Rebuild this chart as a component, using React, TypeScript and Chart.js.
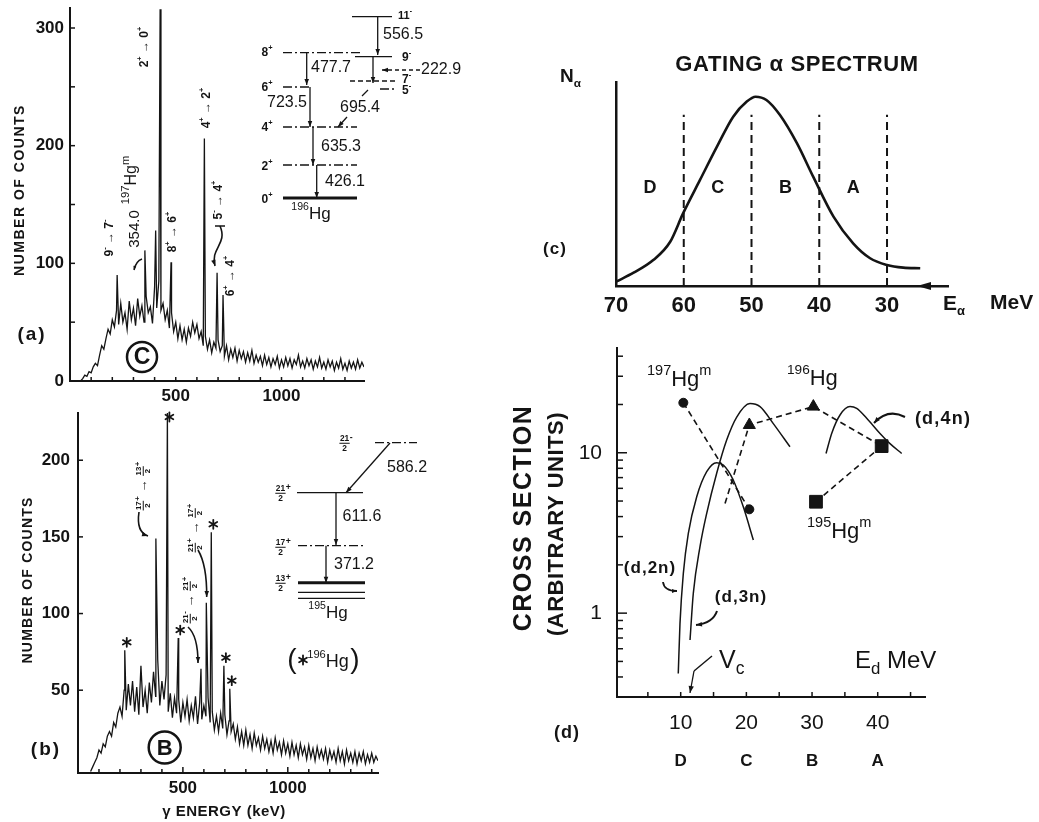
import React, { useEffect, useRef } from 'react';
import { Chart, registerables } from 'chart.js';

Chart.register(...registerables);

const W = 1039;
const H = 822;
const INK = '#141414';
const FAM = '"Liberation Sans", "DejaVu Sans", Arial, sans-serif';

// ---------------- Panel (a): gamma spectrum, alpha gate C ----------------
const binWidthA = 10; // keV per channel group
const countsA = [
  null, null, null, null, null, 0, 2, 5, 4, 8,
  7, 12, 15, 13, 22, 30, 27, 36, 44, 40,
  52, 46, 60, 48, 66, 50, 58, 44, 68, 52,
  62, 47, 70, 55, 64, 50, 72, 58, 63, 49,
  80, 62, 85, 60, 66, 52, 60, 45, 58, 42,
  50, 36, 47, 35, 44, 33, 45, 38, 50, 41,
  48, 36, 42, 30, 38, 27, 35, 24, 33, 28,
  35, 25, 30, 21, 30, 18, 27, 20, 28, 17,
  26, 19, 25, 16, 24, 17, 26, 15, 22, 16,
  21, 13, 22, 14, 20, 12, 19, 14, 21, 11,
  18, 12, 20, 13, 19, 11, 18, 14, 22, 12,
  17, 11, 19, 13, 18, 10, 17, 12, 20, 11,
  16, 10, 18, 12, 17, 9, 16, 11, 19, 10,
  15, 9, 17, 11, 16, 10, 18, 11, 16, 12,
];
const peakEnergiesA = [222.9, 354.0, 405, 426.1, 477.7, 635.3, 695.4, 723.5];
const peakHeightsA = [90, 111, 128, 316, 101, 206, 92, 73];
const yTickLabelsA = [0, 100, 200, 300];
const yTickMarksA = [50, 100, 150, 200, 250, 300];
const xTickLabelsA = [500, 1000];
const xTickMarksA = [100, 200, 300, 400, 500, 600, 700, 800, 900, 1000, 1100, 1200, 1300];

// ---------------- Panel (b): gamma spectrum, alpha gate B ----------------
const binWidthB = 10;
const countsB = [
  null, null, null, null, null, null, -3, 0, 3, 6,
  11, 9, 15, 13, 20, 23, 20, 29, 26, 35,
  39, 33, 50, 37, 54, 40, 56, 36, 52, 34,
  66, 39, 50, 35, 55, 42, 62, 46, 70, 40,
  56, 44, 60, 36, 48, 32, 45, 35, 44, 29,
  42, 33, 44, 30, 40, 32, 46, 28, 42, 31,
  40, 33, 45, 29, 36, 24, 33, 23, 35, 25,
  34, 21, 30, 23, 28, 18, 26, 15, 23, 14,
  24, 14, 21, 12, 22, 14, 19, 11, 20, 12,
  18, 10, 17, 9, 19, 11, 16, 8, 17, 9,
  15, 7, 16, 8, 14, 6, 15, 8, 13, 5,
  14, 6, 12, 4, 13, 6, 11, 5, 12, 3,
  11, 5, 10, 3, 12, 4, 10, 2, 11, 4,
  9, 3, 10, 2, 9, 4, 10, 2, 8, 3,
  9, 3, 7, 4,
];
const peakEnergiesB = [222.9, 371.2, 426.1, 477.7, 586.2, 611.6, 635.3, 695.4, 723.5];
const peakHeightsB = [76, 149, 231, 84, 64, 107, 153, 66, 51];
const starredPeaksB = [222.9, 426.1, 477.7, 635.3, 695.4, 723.5];
const yTickLabelsB = [50, 100, 150, 200];
const yTickMarksB = [50, 100, 150, 200];
const xTickLabelsB = [500, 1000];
const xTickMarksB = [100, 200, 300, 400, 500, 600, 700, 800, 900, 1000, 1100, 1200, 1300, 1400];

// ---------------- Panel (c): gating alpha spectrum ----------------
const alphaEnergy = [25.1, 27.6, 30, 32.5, 35, 37.9, 40.9, 43.3, 45.8, 47.8, 49.4, 50.7, 52.7, 55.1, 57.6, 60.1, 62, 64.5, 67.4, 70];
const alphaCounts = [8.7, 9.0, 10.3, 13.6, 20.9, 34, 53.6, 70, 83.8, 91.2, 92.8, 90.4, 83, 68.3, 52, 35.6, 21.7, 12.7, 6.5, 2.1];
const gateBounds = [70, 60, 50, 40, 30];
const gateLetters = ['D', 'C', 'B', 'A'];
const gateLineTop = 84;
const gateLetterLevel = 48;
const xTickLabelsC = [30, 40, 50, 60, 70];

// ---------------- Panel (d): excitation functions ----------------
const d2nE = [9.63, 9.89, 10.4, 11.16, 12.44, 13.96, 15.48, 16.49, 18.0, 19.53, 21.06];
const d2nS = [0.42, 0.86, 1.77, 3.14, 5.32, 7.62, 8.67, 8.38, 6.76, 4.6, 2.86];
const d3nE = [11.42, 11.92, 12.94, 13.96, 15.48, 17.0, 18.53, 20.55, 22.08, 24.1, 26.64];
const d3nS = [0.68, 1.33, 2.6, 4.19, 7.45, 12.0, 16.7, 20.3, 19.4, 15.2, 10.9];
const d4nE = [32.13, 32.99, 34.26, 35.78, 36.8, 38.32, 40.35, 41.87, 43.65];
const d4nS = [9.9, 13.2, 17.2, 19.4, 18.9, 16.4, 13.2, 11.4, 9.9];
const hg197E = [10.4, 20.45];
const hg197S = [20.5, 4.44];
const hg196E = [16.75, 20.45, 30.2, 40.6];
const hg196S = [4.83, 14.9, 19.4, 11.0];
const hg196Marked = [false, true, true, false];
const hg195E = [30.6, 40.6];
const hg195S = [4.95, 11.0];
const xTickLabelsD = [10, 20, 30, 40];
const xTickMarksD = [5, 10, 15, 20, 25, 30, 35, 40, 45];
const yTickLabelsD = [1, 10];
const yTickMarksD = [0.4, 0.5, 0.6, 0.7, 0.8, 0.9, 1, 2, 3, 4, 5, 6, 7, 8, 9, 10, 20, 30, 40];
const gateBeamEnergy = [10, 20, 30, 40];

// ---------------- drawing helpers ----------------
type Seg = { kind: 'n' | 'sup' | 'sub' | 'frac'; t: string; b?: string };

function parseRich(s: string): Seg[] {
  const out: Seg[] = [];
  let buf = '';
  let i = 0;
  const flush = () => {
    if (buf) { out.push({ kind: 'n', t: buf }); buf = ''; }
  };
  while (i < s.length) {
    const c = s[i];
    if ((c === '^' || c === '_') && s[i + 1] === '{') {
      flush();
      const j = s.indexOf('}', i);
      out.push({ kind: c === '^' ? 'sup' : 'sub', t: s.slice(i + 2, j) });
      i = j + 1;
    } else if (c === '[') {
      flush();
      const j = s.indexOf(']', i);
      const parts = s.slice(i + 1, j).split('|');
      out.push({ kind: 'frac', t: parts[0], b: parts[1] });
      i = j + 1;
    } else {
      buf += c;
      i++;
    }
  }
  flush();
  return out;
}

interface TO { weight?: string; align?: 'left' | 'center' | 'right'; rot?: number; ls?: number; ss?: number }

function drawRich(ctx: CanvasRenderingContext2D, s: string, x: number, y: number, size: number, o: TO = {}) {
  const weight = o.weight ?? 'bold';
  const ss = o.ss ?? 0.62;
  const font = (sz: number) => `${weight} ${sz}px ${FAM}`;
  const segs = parseRich(s);
  ctx.save();
  ctx.translate(x, y);
  if (o.rot) ctx.rotate(o.rot);
  (ctx as any).letterSpacing = `${o.ls ?? 0}px`;
  ctx.fillStyle = INK;
  ctx.strokeStyle = INK;
  ctx.textBaseline = 'middle';
  ctx.textAlign = 'left';
  const widths = segs.map((seg) => {
    if (seg.kind === 'n') { ctx.font = font(size); return ctx.measureText(seg.t).width; }
    if (seg.kind === 'frac') {
      ctx.font = font(size * 0.6);
      return Math.max(ctx.measureText(seg.t).width, ctx.measureText(seg.b || '').width) + 1;
    }
    ctx.font = font(size * ss);
    return ctx.measureText(seg.t).width;
  });
  const total = widths.reduce((a, b) => a + b, 0);
  let cx = o.align === 'left' ? 0 : o.align === 'right' ? -total : -total / 2;
  segs.forEach((seg, k) => {
    const w = widths[k];
    if (seg.kind === 'n') {
      ctx.font = font(size);
      ctx.fillText(seg.t, cx, 0);
    } else if (seg.kind === 'sup') {
      ctx.font = font(size * ss);
      ctx.fillText(seg.t, cx, -size * 0.4);
    } else if (seg.kind === 'sub') {
      ctx.font = font(size * ss);
      ctx.fillText(seg.t, cx, size * 0.33);
    } else {
      ctx.font = font(size * 0.6);
      ctx.textAlign = 'center';
      ctx.fillText(seg.t, cx + w / 2, -size * 0.34);
      ctx.fillText(seg.b || '', cx + w / 2, size * 0.38);
      ctx.textAlign = 'left';
      ctx.lineWidth = 1;
      ctx.beginPath();
      ctx.moveTo(cx, 0.02 * size);
      ctx.lineTo(cx + w, 0.02 * size);
      ctx.stroke();
    }
    cx += w;
  });
  ctx.restore();
}

function drawArrow(ctx: CanvasRenderingContext2D, pts: number[][], o: { dash?: number[]; head?: number; lw?: number } = {}) {
  ctx.save();
  ctx.strokeStyle = INK;
  ctx.fillStyle = INK;
  ctx.lineWidth = o.lw ?? 1.3;
  ctx.setLineDash(o.dash ?? []);
  ctx.beginPath();
  ctx.moveTo(pts[0][0], pts[0][1]);
  if (pts.length === 2) ctx.lineTo(pts[1][0], pts[1][1]);
  else if (pts.length === 3) ctx.quadraticCurveTo(pts[1][0], pts[1][1], pts[2][0], pts[2][1]);
  else ctx.bezierCurveTo(pts[1][0], pts[1][1], pts[2][0], pts[2][1], pts[3][0], pts[3][1]);
  ctx.stroke();
  ctx.setLineDash([]);
  const h = o.head ?? 7;
  if (h > 0) {
    const [ex, ey] = pts[pts.length - 1];
    const [px, py] = pts[pts.length - 2];
    const a = Math.atan2(ey - py, ex - px);
    const c = Math.cos(a);
    const s = Math.sin(a);
    ctx.beginPath();
    ctx.moveTo(ex, ey);
    ctx.lineTo(ex - h * c + h * 0.38 * s, ey - h * s - h * 0.38 * c);
    ctx.lineTo(ex - h * c - h * 0.38 * s, ey - h * s + h * 0.38 * c);
    ctx.closePath();
    ctx.fill();
  }
  ctx.restore();
}

function drawLevel(ctx: CanvasRenderingContext2D, x1: number, x2: number, y: number, style: string, lw = 1.3) {
  ctx.save();
  ctx.strokeStyle = INK;
  ctx.lineWidth = lw;
  ctx.setLineDash(style === 'dashdot' ? [9, 3, 2, 3] : style === 'dash' ? [5, 3] : []);
  ctx.beginPath();
  ctx.moveTo(x1, y);
  ctx.lineTo(x2, y);
  ctx.stroke();
  ctx.restore();
}

function drawCircled(ctx: CanvasRenderingContext2D, ch: string, x: number, y: number, r: number, size: number) {
  ctx.save();
  ctx.strokeStyle = INK;
  ctx.lineWidth = 2.5;
  ctx.beginPath();
  ctx.arc(x, y, r, 0, Math.PI * 2);
  ctx.stroke();
  ctx.restore();
  drawRich(ctx, ch, x, y + 1, size, { weight: 'bold' });
}

function drawStar(ctx: CanvasRenderingContext2D, x: number, y: number, r: number) {
  ctx.save();
  ctx.strokeStyle = INK;
  ctx.lineWidth = 1.8;
  ctx.lineCap = 'round';
  for (let k = 0; k < 3; k++) {
    const a = Math.PI / 2 + (k * Math.PI) / 3;
    ctx.beginPath();
    ctx.moveTo(x + r * Math.cos(a), y + r * Math.sin(a));
    ctx.lineTo(x - r * Math.cos(a), y - r * Math.sin(a));
    ctx.stroke();
  }
  ctx.restore();
}

function tickLine(ctx: CanvasRenderingContext2D, x1: number, y1: number, x2: number, y2: number, lw = 1.5) {
  ctx.save();
  ctx.strokeStyle = INK;
  ctx.lineWidth = lw;
  ctx.beginPath();
  ctx.moveTo(x1, y1);
  ctx.lineTo(x2, y2);
  ctx.stroke();
  ctx.restore();
}

function fixAxis(size: number, isX: boolean) {
  return (s: any) => {
    if (isX) s.height = size; else s.width = size;
    s.paddingLeft = 0;
    s.paddingRight = 0;
    s.paddingTop = 0;
    s.paddingBottom = 0;
  };
}

function setTicks(values: number[]) {
  return (s: any) => {
    s.ticks = values.map((v) => ({ value: v }));
  };
}

function buildSpectrum(counts: (number | null)[], binWidth: number, pe: number[], ph: number[]) {
  const pts: { x: number; y: number | null }[] = counts.map((c, i) => ({ x: i * binWidth, y: c }));
  pe.forEach((e, k) => pts.push({ x: e, y: ph[k] }));
  pts.sort((p, q) => p.x - q.x);
  return pts;
}

const pairs = (xs: number[], ys: number[]) => xs.map((x, i) => ({ x, y: ys[i] }));

function axisCfg(o: any) {
  return {
    type: o.type || 'linear',
    min: o.min,
    max: o.max,
    reverse: !!o.reverse,
    grid: { display: true, drawOnChartArea: false, drawTicks: false, color: INK },
    border: { display: true, color: INK, width: o.bw ?? 2 },
    afterFit: fixAxis(o.size, o.isX),
    afterBuildTicks: setTicks(o.labels || []),
    ticks: {
      display: !!(o.labels && o.labels.length),
      autoSkip: false,
      maxRotation: 0,
      minRotation: 0,
      padding: o.pad ?? 5,
      color: INK,
      font: { family: FAM, size: o.fs ?? 17, weight: o.fw ?? 'bold' },
      callback: (v: any) => String(v),
    },
  };
}

const baseOptions = (padding: any, scales: any) => ({
  responsive: false,
  animation: false,
  devicePixelRatio: 1,
  events: [],
  layout: { padding },
  plugins: { legend: { display: false }, tooltip: { enabled: false } },
  scales,
});

const ROT = -Math.PI / 2;

// ---------------- chart builders ----------------
function buildA(canvas: HTMLCanvasElement) {
  const plugin = {
    id: 'annA',
    afterDraw(chart: any) {
      const ctx: CanvasRenderingContext2D = chart.ctx;
      const xs = chart.scales.x;
      const ys = chart.scales.y;
      const ca = chart.chartArea;
      yTickMarksA.forEach((v) => { const y = ys.getPixelForValue(v); tickLine(ctx, ca.left, y, ca.left + 5, y); });
      xTickMarksA.forEach((v) => { const x = xs.getPixelForValue(v); tickLine(ctx, x, ca.bottom, x, ca.bottom - 4); });

      drawRich(ctx, 'NUMBER OF COUNTS', 20, 190, 14, { rot: ROT, ls: 1.5 });
      drawRich(ctx, '(a)', 32, 335, 19, { ls: 2 });
      drawCircled(ctx, 'C', 142, 357, 15, 23);

      drawRich(ctx, '9^{-} → 7^{-}', 110, 238, 12, { rot: ROT });
      drawRich(ctx, '354.0', 135, 229, 15, { rot: ROT, weight: 'normal' });
      drawRich(ctx, '^{197}Hg^{m}', 132, 180, 16, { rot: ROT, weight: 'normal', ss: 0.7 });
      drawArrow(ctx, [[142, 259], [136, 261], [134, 270]], { head: 4, lw: 1.5 });
      drawRich(ctx, '2^{+} → 0^{+}', 145, 47, 12, { rot: ROT });
      drawRich(ctx, '8^{+} → 6^{+}', 173, 232, 12, { rot: ROT });
      drawRich(ctx, '4^{+} → 2^{+}', 207, 108, 12, { rot: ROT });
      drawRich(ctx, '5^{-} → 4^{+}', 219, 200, 12, { rot: ROT });
      tickLine(ctx, 215, 226, 225, 226, 1.5);
      drawArrow(ctx, [[220, 226], [228, 244], [210, 248], [215, 266]], { head: 6, lw: 1.6 });
      drawRich(ctx, '6^{+} → 4^{+}', 231, 276, 12, { rot: ROT });

      // level scheme of 196Hg
      drawLevel(ctx, 352, 392, 16.7, 'solid');
      drawRich(ctx, '11^{-}', 398, 16, 11, { align: 'left' });
      drawArrow(ctx, [[377.7, 16.7], [377.7, 55]], { head: 6 });
      drawRich(ctx, '556.5', 383, 35, 16, { align: 'left', weight: 'normal' });
      drawLevel(ctx, 283, 360, 52.7, 'dashdot');
      drawRich(ctx, '8^{+}', 267, 53, 12);
      drawLevel(ctx, 355, 392, 56.7, 'solid');
      drawRich(ctx, '9^{-}', 402, 58, 12, { align: 'left' });
      drawArrow(ctx, [[420, 70], [382, 70]], { dash: [4, 3], head: 6 });
      drawRich(ctx, '222.9', 421, 70, 16, { align: 'left', weight: 'normal' });
      drawArrow(ctx, [[306.7, 52.7], [306.7, 85]], { head: 6 });
      drawRich(ctx, '477.7', 331, 68, 16, { weight: 'normal' });
      drawArrow(ctx, [[373, 57], [373, 83]], { head: 6 });
      drawLevel(ctx, 350, 395, 81, 'dash');
      drawRich(ctx, '7^{-}', 402, 80, 12, { align: 'left' });
      drawLevel(ctx, 380, 395, 89, 'dashdot');
      drawRich(ctx, '5^{-}', 402, 91, 12, { align: 'left' });
      drawLevel(ctx, 283, 312, 87, 'dashdot');
      drawRich(ctx, '6^{+}', 267, 88, 12);
      drawArrow(ctx, [[310, 87], [310, 127]], { head: 6 });
      drawRich(ctx, '723.5', 287, 103, 16, { weight: 'normal' });
      tickLine(ctx, 368, 90, 362, 96, 1.2);
      drawArrow(ctx, [[347, 117], [338, 127]], { head: 6 });
      drawRich(ctx, '695.4', 360, 108, 16, { weight: 'normal' });
      drawLevel(ctx, 283, 357, 127, 'dashdot');
      drawRich(ctx, '4^{+}', 267, 128, 12);
      drawArrow(ctx, [[313, 127], [313, 165]], { head: 6 });
      drawRich(ctx, '635.3', 341, 147, 16, { weight: 'normal' });
      drawLevel(ctx, 283, 357, 165, 'dashdot');
      drawRich(ctx, '2^{+}', 267, 167, 12);
      drawArrow(ctx, [[316.7, 165], [316.7, 198]], { head: 6 });
      drawRich(ctx, '426.1', 345, 182, 16, { weight: 'normal' });
      drawLevel(ctx, 283, 357, 198, 'solid', 3);
      drawRich(ctx, '0^{+}', 267, 200, 12);
      drawRich(ctx, '^{196}Hg', 311, 214, 17, { weight: 'normal' });
    },
  };
  return new Chart(canvas, {
    type: 'line',
    data: {
      datasets: [{
        data: buildSpectrum(countsA, binWidthA, peakEnergiesA, peakHeightsA),
        borderColor: INK, borderWidth: 1.3, pointRadius: 0, tension: 0, spanGaps: false,
      }],
    },
    options: baseOptions({ left: 0, top: 8, right: 675, bottom: 411 }, {
      x: axisCfg({ min: 0, max: 1390, isX: true, size: 30, labels: xTickLabelsA, pad: 5 }),
      y: axisCfg({ min: 0, max: 317, isX: false, size: 70, labels: yTickLabelsA, pad: 6 }),
    }),
    plugins: [plugin],
  } as any);
}

function buildB(canvas: HTMLCanvasElement) {
  const plugin = {
    id: 'annB',
    afterDraw(chart: any) {
      const ctx: CanvasRenderingContext2D = chart.ctx;
      const xs = chart.scales.x;
      const ys = chart.scales.y;
      const ca = chart.chartArea;
      yTickMarksB.forEach((v) => { const y = ys.getPixelForValue(v); tickLine(ctx, ca.left, y, ca.left + 5, y); });
      xTickMarksB.forEach((v) => {
        const x = xs.getPixelForValue(v);
        tickLine(ctx, x, ca.bottom, x, ca.bottom - (xTickLabelsB.includes(v) ? 6 : 4));
      });
      starredPeaksB.forEach((e) => {
        const h = peakHeightsB[peakEnergiesB.indexOf(e)];
        const x = xs.getPixelForValue(e) + 2;
        const y = Math.max(ys.getPixelForValue(h) - 8, ca.top + 4);
        drawStar(ctx, x, y, 4.5);
      });

      drawRich(ctx, 'NUMBER OF COUNTS', 28, 580, 14, { rot: ROT, ls: 1.2 });
      drawRich(ctx, '(b)', 46, 750, 19, { ls: 2 });
      drawCircled(ctx, 'B', 164.7, 747.5, 16, 22);
      drawRich(ctx, 'γ ENERGY (keV)', 224, 812, 15, { ls: 0.5 });

      drawRich(ctx, '[17|2]^{+} → [13|2]^{+}', 143, 486, 13, { rot: ROT });
      drawArrow(ctx, [[139, 512], [136, 532], [148, 536]], { head: 6, lw: 1.6 });
      drawRich(ctx, '[21|2]^{+} → [17|2]^{+}', 195, 528, 13, { rot: ROT });
      drawArrow(ctx, [[198, 550], [207, 565], [206.7, 597]], { head: 6, lw: 1.6 });
      drawRich(ctx, '[21|2]^{-} → [21|2]^{+}', 190, 600, 13, { rot: ROT });
      drawArrow(ctx, [[188, 627], [198, 636], [198, 663]], { head: 6, lw: 1.6 });

      // level scheme of 195Hg
      drawLevel(ctx, 375, 417, 442.7, 'dashdot');
      drawRich(ctx, '[21|2]^{-}', 346, 443, 14);
      drawArrow(ctx, [[390, 443], [346, 492.7]], { head: 6 });
      drawRich(ctx, '586.2', 387, 468, 16, { align: 'left', weight: 'normal' });
      drawLevel(ctx, 297, 363, 492.7, 'solid');
      drawRich(ctx, '[21|2]^{+}', 283, 493, 14);
      drawArrow(ctx, [[336, 492.7], [336, 545]], { head: 6 });
      drawRich(ctx, '611.6', 362, 517, 16, { weight: 'normal' });
      drawLevel(ctx, 298, 363, 545.7, 'dashdot');
      drawRich(ctx, '[17|2]^{+}', 283, 547, 14);
      drawArrow(ctx, [[326, 545.7], [326, 582.7]], { head: 6 });
      drawRich(ctx, '371.2', 354, 565, 16, { weight: 'normal' });
      drawLevel(ctx, 298, 365, 582.7, 'solid', 3);
      drawRich(ctx, '[13|2]^{+}', 283, 583, 14);
      drawLevel(ctx, 298, 365, 592.3, 'solid', 1.2);
      drawLevel(ctx, 298, 365, 598.3, 'solid', 1.2);
      drawRich(ctx, '^{195}Hg', 328, 613, 17, { weight: 'normal' });
      drawRich(ctx, '(', 292, 660, 28, { weight: 'normal' });
      drawRich(ctx, ')', 355, 660, 28, { weight: 'normal' });
      drawStar(ctx, 303, 660, 4.5);
      drawRich(ctx, '^{196}Hg', 328, 662, 18, { weight: 'normal' });
    },
  };
  return new Chart(canvas, {
    type: 'line',
    data: {
      datasets: [{
        data: buildSpectrum(countsB, binWidthB, peakEnergiesB, peakHeightsB),
        borderColor: INK, borderWidth: 1.3, pointRadius: 0, tension: 0, spanGaps: false,
      }],
    },
    options: baseOptions({ left: 0, top: 413, right: 661, bottom: 9 }, {
      x: axisCfg({ min: 0, max: 1430, isX: true, size: 40, labels: xTickLabelsB, pad: 5 }),
      y: axisCfg({ min: -4, max: 230.8, isX: false, size: 78, labels: yTickLabelsB, pad: 8 }),
    }),
    plugins: [plugin],
  } as any);
}

function buildC(canvas: HTMLCanvasElement) {
  const plugin = {
    id: 'annC',
    afterDraw(chart: any) {
      const ctx: CanvasRenderingContext2D = chart.ctx;
      const xs = chart.scales.x;
      const ys = chart.scales.y;
      const ca = chart.chartArea;
      gateLetters.forEach((L, i) => {
        const e = (gateBounds[i] + gateBounds[i + 1]) / 2;
        drawRich(ctx, L, xs.getPixelForValue(e), ys.getPixelForValue(gateLetterLevel), 18);
      });
      // axis arrow
      ctx.save();
      ctx.fillStyle = INK;
      ctx.beginPath();
      ctx.moveTo(ca.right - 31, ca.bottom);
      ctx.lineTo(ca.right - 17, ca.bottom - 4);
      ctx.lineTo(ca.right - 17, ca.bottom + 4);
      ctx.closePath();
      ctx.fill();
      ctx.restore();

      drawRich(ctx, 'GATING α SPECTRUM', 797, 65, 22, { ls: 0.6 });
      drawRich(ctx, 'N_{α}', 560, 77, 19, { align: 'left' });
      drawRich(ctx, '(c)', 555, 249, 17, { ls: 1 });
      drawRich(ctx, 'E_{α}', 943, 304, 21, { align: 'left' });
      drawRich(ctx, 'MeV', 990, 303, 21, { align: 'left' });
    },
  };
  const gateSets = gateBounds.slice(1).map((g) => ({
    data: [{ x: g, y: 0 }, { x: g, y: gateLineTop }],
    borderColor: INK, borderWidth: 2, borderDash: [8, 5], pointRadius: 0,
  }));
  return new Chart(canvas, {
    type: 'line',
    data: {
      datasets: [
        {
          data: pairs(alphaEnergy, alphaCounts),
          borderColor: INK, borderWidth: 2.6, pointRadius: 0, cubicInterpolationMode: 'monotone',
        },
        ...gateSets,
      ],
    },
    options: baseOptions({ left: 520, top: 82, right: 91, bottom: 496 }, {
      x: axisCfg({ min: 21, max: 70, reverse: true, isX: true, size: 40, labels: xTickLabelsC, pad: 7, fs: 22, bw: 2.5 }),
      y: axisCfg({ min: 0, max: 100, isX: false, size: 96, labels: [], bw: 2.5 }),
    }),
    plugins: [plugin],
  } as any);
}

function buildD(canvas: HTMLCanvasElement) {
  const plugin = {
    id: 'annD',
    afterDraw(chart: any) {
      const ctx: CanvasRenderingContext2D = chart.ctx;
      const xs = chart.scales.x;
      const ys = chart.scales.y;
      const ca = chart.chartArea;
      yTickMarksD.forEach((v) => {
        const y = ys.getPixelForValue(v);
        tickLine(ctx, ca.left, y, ca.left + (yTickLabelsD.includes(v) ? 10 : 6), y);
      });
      xTickMarksD.forEach((v) => { const x = xs.getPixelForValue(v); tickLine(ctx, x, ca.bottom, x, ca.bottom - 5); });
      gateLetters.forEach((L, i) => {
        drawRich(ctx, L, xs.getPixelForValue(gateBeamEnergy[i]), 761, 17);
      });

      drawRich(ctx, 'CROSS SECTION', 524, 518, 25, { rot: ROT, ls: 1.5 });
      drawRich(ctx, '(ARBITRARY UNITS)', 557, 524, 22, { rot: ROT, ls: 0.5 });
      drawRich(ctx, '^{197}Hg^{m}', 647, 380, 22, { align: 'left', weight: 'normal', ss: 0.66 });
      drawRich(ctx, '^{196}Hg', 787, 379, 22, { align: 'left', weight: 'normal', ss: 0.62 });
      drawRich(ctx, '(d,4n)', 943, 419, 18, { ls: 1.2 });
      drawArrow(ctx, [[905, 417], [888, 408], [874, 423]], { head: 6, lw: 2 });
      drawRich(ctx, '^{195}Hg^{m}', 807, 532, 22, { align: 'left', weight: 'normal', ss: 0.66 });
      drawRich(ctx, '(d,2n)', 650, 568, 17, { ls: 1 });
      drawArrow(ctx, [[663, 582], [664, 591], [677, 591]], { head: 5, lw: 1.8 });
      drawRich(ctx, '(d,3n)', 741, 597, 17, { ls: 1 });
      drawArrow(ctx, [[717, 611], [713, 623], [696, 625]], { head: 6, lw: 2 });
      drawRich(ctx, 'V_{c}', 719, 661, 25, { align: 'left', weight: 'normal', ss: 0.7 });
      tickLine(ctx, 712, 656, 694, 671, 1.4);
      drawArrow(ctx, [[694, 671], [690, 693]], { head: 7 });
      drawRich(ctx, 'E_{d} MeV', 855, 661, 24, { align: 'left', weight: 'normal', ss: 0.7 });
      drawRich(ctx, '(d)', 567, 733, 18, { ls: 1 });
    },
  };
  const curve = (E: number[], S: number[]) => ({
    data: pairs(E, S), borderColor: INK, borderWidth: 1.5, pointRadius: 0, cubicInterpolationMode: 'monotone',
  });
  const dashedMarks = (E: number[], S: number[], style: string, r: any) => ({
    data: pairs(E, S), borderColor: INK, borderWidth: 1.6, borderDash: [6, 4],
    pointStyle: style, pointRadius: r, pointBackgroundColor: INK, pointBorderColor: INK, pointBorderWidth: 1,
  });
  return new Chart(canvas, {
    type: 'line',
    data: {
      datasets: [
        curve(d2nE, d2nS),
        curve(d3nE, d3nS),
        curve(d4nE, d4nS),
        dashedMarks(hg197E, hg197S, 'circle', 4.5),
        dashedMarks(hg196E, hg196S, 'triangle', hg196Marked.map((m) => (m ? 7 : 0))),
        dashedMarks(hg195E, hg195S, 'rect', 9),
      ],
    },
    options: baseOptions({ left: 520, top: 348, right: 114, bottom: 85 }, {
      x: axisCfg({ min: 0.3, max: 47.2, isX: true, size: 40, labels: xTickLabelsD, pad: 14, fs: 21, fw: 'normal' }),
      y: axisCfg({ type: 'logarithmic', min: 0.3, max: 45, isX: false, size: 97, labels: yTickLabelsD, pad: 15, fs: 21, fw: 'normal' }),
    }),
    plugins: [plugin],
  } as any);
}

export default function App() {
  const r1 = useRef<HTMLCanvasElement>(null);
  const r2 = useRef<HTMLCanvasElement>(null);
  const r3 = useRef<HTMLCanvasElement>(null);
  const r4 = useRef<HTMLCanvasElement>(null);
  useEffect(() => {
    const charts = [buildA(r1.current!), buildB(r2.current!), buildC(r3.current!), buildD(r4.current!)];
    return () => charts.forEach((c) => c.destroy());
  }, []);
  const cs: React.CSSProperties = { position: 'absolute', left: 0, top: 0, width: W, height: H };
  return (
    <div style={{ position: 'fixed', left: 0, top: 0, width: W, height: H, background: '#fff', overflow: 'hidden' }}>
      <canvas ref={r1} width={W} height={H} style={cs} />
      <canvas ref={r2} width={W} height={H} style={cs} />
      <canvas ref={r3} width={W} height={H} style={cs} />
      <canvas ref={r4} width={W} height={H} style={cs} />
    </div>
  );
}
